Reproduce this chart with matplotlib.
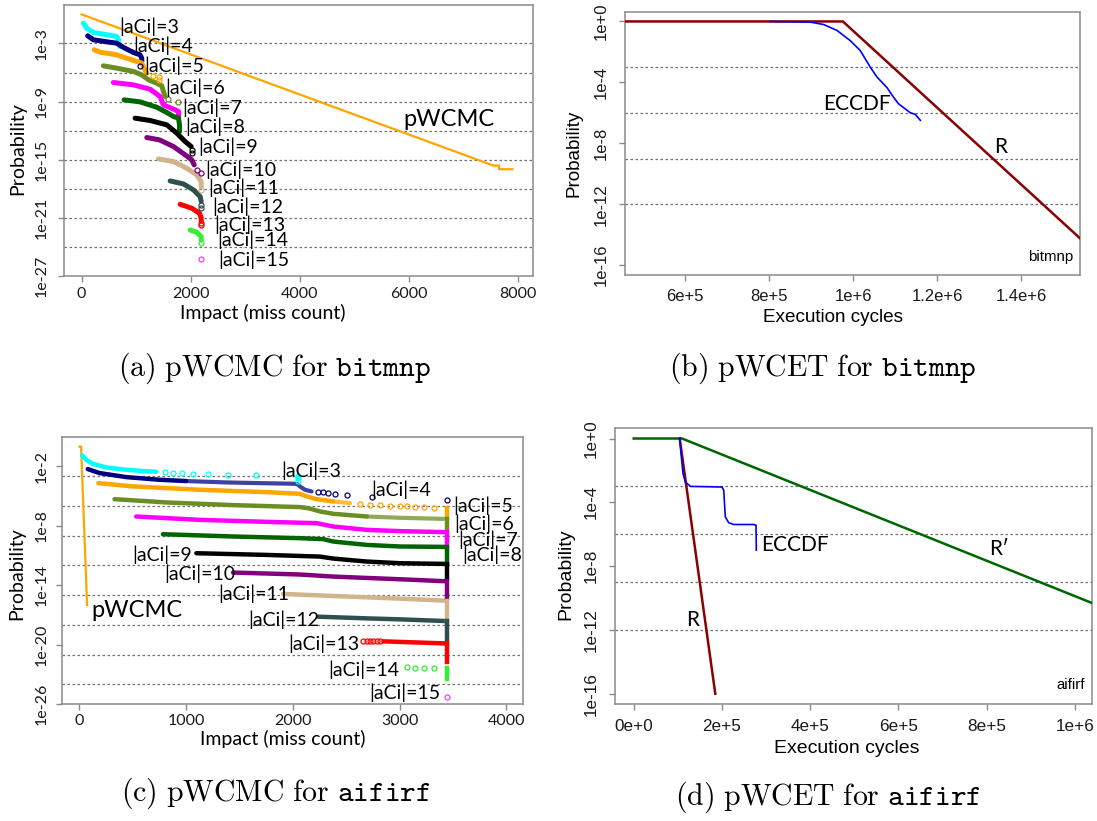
import numpy as np
import matplotlib
matplotlib.use("Agg")
import matplotlib.pyplot as plt
from matplotlib.ticker import NullLocator

plt.rcParams["mathtext.fontset"] = "cm"
plt.rcParams["font.family"] = ["Lato", "DejaVu Sans"]

CAL = ["Lato", "DejaVu Sans"]
ARI = ["Liberation Sans", "DejaVu Sans"]
FIG_W, FIG_H = 1097, 821

# ---------------- (a) pWCMC for bitmnp ----------------
a_sizes = [3, 4, 5, 6, 7, 8, 9, 10, 11, 12, 13, 14, 15]
a_line_x = [
    [31, 92, 214, 459, 642, 673, 673, 703],
    [110, 214, 459, 642, 765, 948, 1070, 1101, 1101],
    [232, 336, 642, 826, 1009, 1101, 1144, 1193],
    [398, 642, 948, 1101, 1223, 1376, 1468, 1498, 1529],
    [581, 948, 1254, 1437, 1498, 1682, 1774, 1774],
    [777, 1070, 1376, 1560, 1682, 1774, 1792, 1792],
    [979, 1254, 1560, 1743, 1896, 2006],
    [1193, 1425, 1682, 1896, 2018, 2061],
    [1407, 1682, 1927, 2110, 2190, 2190],
    [1621, 1865, 2049, 2171, 2190],
    [1804, 2018, 2159, 2190, 2190],
    [1988, 2110, 2190, 2190],
    [],
]
a_line_exp = [
    [-0.90, -1.42, -1.86, -2.10, -2.28, -2.55, -2.97, -3.31],
    [-2.21, -2.62, -2.83, -2.97, -3.41, -3.93, -4.17, -4.52, -4.86],
    [-3.65, -3.90, -4.17, -4.52, -4.86, -5.03, -5.55, -6.06],
    [-5.31, -5.55, -5.89, -6.24, -6.75, -7.10, -7.37, -7.96, -8.48],
    [-7.03, -7.27, -7.72, -8.48, -9.34, -9.78, -10.02, -10.71],
    [-8.82, -9.03, -9.58, -10.13, -10.54, -10.71, -11.40, -12.09],
    [-10.71, -10.95, -11.40, -12.26, -13.12, -13.64],
    [-12.71, -12.95, -13.64, -14.50, -15.02, -15.53],
    [-14.91, -15.19, -15.88, -16.57, -17.26, -17.80],
    [-17.19, -17.50, -18.12, -18.81, -19.30],
    [-19.60, -20.01, -20.53, -21.00, -21.30],
    [-22.25, -22.49, -22.94, -23.30],
    [],
]
a_dot_x = [[], [1070], [1315, 1425, 1425], [1590, 1761], [], [], [2018, 2018],
           [2110, 2190], [2190], [2190, 2190], [2190, 2190], [2190], [2190]]
a_dot_exp = [[], [-5.30], [-6.34, -6.48, -6.75], [-8.75, -9.06], [], [], [-13.95, -14.33],
             [-16.05, -16.33], [-18.12], [-19.67, -20.01], [-21.55, -21.73], [-23.63], [-25.28]]
a_label_x = [691, 948, 1150, 1529, 1835, 1896, 2141, 2263, 2324, 2398, 2422, 2477, 2495]
a_label_exp = [-1.24, -3.24, -5.31, -7.61, -9.61, -11.64, -13.64, -16.05, -17.94, -19.84,
               -21.73, -23.28, -25.28]
a_pwcmc_x = [0, 7541, 7645, 7645, 7890]
a_pwcmc_exp = [0, -15.60, -15.60, -15.98, -15.98]
a_xticks = [0, 2000, 4000, 6000, 8000]
a_yticks_exp = [-3, -9, -15, -21, -27]
a_grid_exp = [-3, -6, -9, -12, -15, -18, -21, -24]

# ---------------- (b) pWCET for bitmnp ----------------
b_r_x = [4.59e5, 9.76e5, 1.540e6]
b_r_exp = [0, 0, -14.25]
b_eccdf_x = [8.03e5, 8.98e5, 9.30e5, 9.62e5, 9.93e5, 1.017e6, 1.041e6, 1.057e6,
             1.081e6, 1.096e6, 1.108e6, 1.136e6, 1.148e6, 1.160e6]
b_eccdf_exp = [0, -0.04, -0.20, -0.59, -1.25, -1.90, -3.00, -3.65,
               -4.35, -4.96, -5.40, -5.99, -6.10, -6.49]
b_xticks = [6e5, 8e5, 1e6, 1.2e6, 1.4e6]
b_xticklabels = ["6e+5", "8e+5", "1e+6", "1.2e+6", "1.4e+6"]

# ---------------- (c) pWCMC for aifirf ----------------
c_line_x = [
    [25, 63, 125, 250, 438, 563, 720],
    [78, 188, 438, 751, 1000],
    [178, 501, 1127, 1753, 2066, 2113, 2222, 2379],
    [329, 814, 1440, 2066, 2144, 2254, 2379, 2692],
    [532, 1127, 1753, 2222, 2379, 2692, 3005, 3428],
    [783, 1440, 2066, 2285, 2379, 2692, 3005, 3428],
    [1096, 1753, 2254, 2379, 2692, 3005, 3428],
    [1440, 2066, 2379, 3005, 3428],
    [1909, 2379, 3005, 3428],
    [2238, 2692, 3005, 3428],
    [2848, 3428],
    [],
    [],
]
c_line_exp = [
    [-0.89, -1.33, -1.73, -2.10, -2.34, -2.44, -2.54],
    [-2.27, -2.67, -3.08, -3.35, -3.48],
    [-3.69, -4.02, -4.36, -4.60, -4.77, -4.97, -5.31, -5.54],
    [-5.31, -5.64, -5.91, -6.11, -6.22, -6.55, -6.79, -7.06],
    [-7.06, -7.40, -7.60, -7.73, -8.07, -8.41, -8.54, -8.64],
    [-8.85, -9.08, -9.25, -9.35, -9.59, -9.93, -10.09, -10.13],
    [-10.77, -10.94, -11.11, -11.31, -11.61, -11.78, -11.85],
    [-12.72, -12.92, -13.13, -13.40, -13.60],
    [-14.88, -15.09, -15.36, -15.56],
    [-17.18, -17.35, -17.45, -17.62],
    [-19.67, -19.88],
    [],
    [],
]
# dense runs of open circles (drawn as a lighter band)
c_chain_x = [[], [1000, 1377, 1690, 2003, 2040, 2066, 2113, 2176], [2379, 2535],
             [2692, 3005, 3412], [], [], [], [], [], [], [], [], []]
c_chain_exp = [[], [-3.48, -3.62, -3.69, -3.75, -3.78, -4.02, -4.36, -4.53], [-5.54, -5.71],
               [-7.06, -7.19, -7.30], [], [], [], [], [], [], [], [], []]
c_dot_x = [
    [801, 876, 961, 1064, 1205, 1393, 1653, 2044, 2044, 2044],
    [2238, 2285, 2332, 2395, 2510, 2745, 3443],
    [2629, 2723, 2817, 2911, 3005, 3067, 3146, 3230, 3327],
    [], [], [], [], [], [], [],
    [2661, 2692, 2723, 2755, 2786, 2817],
    [3067, 3146, 3230, 3327],
    [3443],
]
c_dot_exp = [
    [-2.57, -2.67, -2.67, -2.74, -2.77, -2.84, -2.91, -3.01, -3.20, -3.45],
    [-4.60, -4.63, -4.70, -4.77, -4.93, -5.14, -5.40],
    [-5.81, -5.88, -5.91, -5.98, -6.01, -6.05, -6.11, -6.15, -6.18],
    [], [], [], [], [], [], [],
    [-19.64, -19.64, -19.65, -19.65, -19.66, -19.67],
    [-22.30, -22.33, -22.33, -22.40],
    [-25.27],
]
# final vertical runs at the largest impact value
c_drop_x = 3443
c_drop_top = [None, None, -6.20, -7.30, -8.64, -10.13, -11.85, -13.60, -15.56, -17.62,
              -19.88, -22.40, None]
c_drop_bot = [None, None, -7.20, -8.40, -10.00, -11.78, -13.30, -15.30, -17.51, -19.71,
              -21.73, -23.52, None]
c_label_x = [1894, 2730, 3506, 3512, 3553, 3584, 492, 798, 1305, 1581, 1956, 2332, 2717]
c_label_exp = [-2.40, -4.36, -5.98, -7.83, -9.42, -10.94, -10.94, -12.86, -14.82, -17.45,
               -19.88, -22.57, -24.87]
c_pwcmc_x = [0, 16, 72]
c_pwcmc_exp = [0, 0, -16.0]
c_xticks = [0, 1000, 2000, 3000, 4000]
c_yticks_exp = [-2, -8, -14, -20, -26]

# ---------------- (d) pWCET for aifirf ----------------
d_r2_x = [0, 1.095e5, 1.039e6]
d_r2_exp = [0, 0, -10.31]
d_r_x = [1.043e5, 1.85e5]
d_r_exp = [0, -16.0]
d_eccdf_x = [1.043e5, 1.073e5, 1.118e5, 1.170e5, 1.284e5, 2.002e5, 2.041e5, 2.077e5,
             2.154e5, 2.268e5, 2.721e5, 2.773e5, 2.780e5]
d_eccdf_exp = [0, -0.94, -2.20, -2.72, -3.00, -3.04, -3.24, -4.91, -5.28, -5.39, -5.39,
               -5.43, -7.00]
d_xticks = [0, 2e5, 4e5, 6e5, 8e5, 1e6]
d_xticklabels = ["0e+0", "2e+5", "4e+5", "6e+5", "8e+5", "1e+6"]

bd_yticks_exp = [0, -4, -8, -12, -16]
bd_yticklabels = ["1e+0", "1e-4", "1e-8", "1e-12", "1e-16"]
bd_grid_exp = [-3, -6, -9, -12]

aci_colors = ["#00ffff", "#000080", "#ffa500", "#6b8e23", "#ff00ff", "#006400", "#000000",
              "#800080", "#d2b48c", "#2f4f4f", "#ff0000", "#33ee33", "#ee44ee"]


def p(e):
    return 10.0 ** np.asarray(e, dtype=float)


fig = plt.figure(figsize=(FIG_W / 100, FIG_H / 100), dpi=100)


def px_axes(left, top, right, bottom):
    return fig.add_axes([left / FIG_W, 1 - bottom / FIG_H,
                         (right - left) / FIG_W, (bottom - top) / FIG_H])


def ftext(x, y, s, **kw):
    fig.text(x / FIG_W, 1 - y / FIG_H, s, ha="center", va="center", **kw)


def style(ax, xlim, ylim_exp, xticks, xlabels, yticks_exp, ylabels, grid_exp,
          font, size, xpad, ypad):
    ax.set_yscale("log")
    ax.set_xlim(*xlim)
    ax.set_ylim(10.0 ** ylim_exp[0], 10.0 ** ylim_exp[1])
    ax.set_xticks(xticks, xlabels)
    ax.set_yticks(p(yticks_exp), ylabels)
    ax.yaxis.set_minor_locator(NullLocator())
    for s in ax.spines.values():
        s.set_color("#8a8a8a")
        s.set_linewidth(1.1)
    ax.tick_params(length=4, width=1, color="#8a8a8a", labelsize=size, labelcolor="#1a1a1a")
    ax.tick_params(axis="x", pad=xpad)
    ax.tick_params(axis="y", pad=ypad, labelrotation=90)
    for lab in ax.get_yticklabels():
        lab.set_va("center")
        lab.set_family(font)
    for lab in ax.get_xticklabels():
        lab.set_family(font)
    for e in grid_exp:
        ax.axhline(10.0 ** e, color="#707070", lw=0.9, ls=(0, (2, 2)), zorder=1)


def aci_label(k):
    return "|aCi|=%d" % k


# ---- panel (a) ----
ax = px_axes(64.3, 4.7, 533, 276)
style(ax, (-318, 8268), (-27, 1), a_xticks, [str(v) for v in a_xticks], a_yticks_exp,
      ["1e%d" % e for e in a_yticks_exp], a_grid_exp, CAL, 11.5, 4, 7)
ax.plot(a_pwcmc_x, p(a_pwcmc_exp), color="#ffa500", lw=1.6, zorder=2)
for xs, es, c in zip(a_line_x, a_line_exp, aci_colors):
    if xs:
        ax.plot(xs, p(es), color=c, lw=3.6, solid_capstyle="round", zorder=3)
for xs, es, c in zip(a_dot_x, a_dot_exp, aci_colors):
    if xs:
        ax.plot(xs, p(es), "o", mfc="none", mec=c, ms=3.6, mew=0.9, zorder=3)
for k, x, e in zip(a_sizes, a_label_x, a_label_exp):
    ax.text(x, 10.0 ** e, aci_label(k), fontsize=14, family=CAL, va="center", ha="left", zorder=5)
ax.text(5902, 10.0 ** -10.89, "pWCMC", fontsize=17, family=CAL, va="center", ha="left")
ftext(17.5, 149, "Probability", rotation=90, fontsize=14, family=CAL)
ftext(263, 313, "Impact (miss count)", fontsize=14, family=CAL)

# ---- panel (b) ----
ax = px_axes(625.3, 11.7, 1080.3, 275)
style(ax, (4.59e5, 1.540e6), (-16.64, 0.64), b_xticks, b_xticklabels, bd_yticks_exp,
      bd_yticklabels, bd_grid_exp, ARI, 12, 6, 8)
ax.plot(b_r_x, p(b_r_exp), color="#8b0000", lw=1.8, zorder=3)
ax.plot(b_eccdf_x, p(b_eccdf_exp), color="#0000ff", lw=1.2, zorder=4)
ax.text(9.30e5, 10.0 ** -5.4, "ECCDF", fontsize=15, family=CAL, va="center", ha="left")
ax.text(1.3497e6, 10.0 ** -8.24, "R", fontsize=15, family=CAL, va="center", ha="center")
ax.text(1.524e6, 10.0 ** -15.45, "bitmnp", fontsize=10.8, family=ARI, va="center", ha="right")
ftext(574, 153, "Probability", rotation=90, fontsize=13.6, family=ARI)
ftext(833, 318, "Execution cycles", fontsize=13.6, family=ARI)

# ---- panel (c) ----
ax = px_axes(62.3, 436.7, 523.4, 704)
style(ax, (-160, 4160), (-26, 1), c_xticks, [str(v) for v in c_xticks], c_yticks_exp,
      ["1e%d" % e for e in c_yticks_exp], a_grid_exp, CAL, 11.5, 3, 6)
ax.plot(c_pwcmc_x, p(c_pwcmc_exp), color="#ffa500", lw=1.6, zorder=2)
for xs, es, c in zip(c_chain_x, c_chain_exp, aci_colors):
    if xs:
        ax.plot(xs, p(es), color=c, lw=3.0, alpha=0.75, solid_capstyle="round", zorder=3)
for xs, es, c in zip(c_line_x, c_line_exp, aci_colors):
    if xs:
        ax.plot(xs, p(es), color=c, lw=3.2, solid_capstyle="round", zorder=3)
for top, bot, c in zip(c_drop_top, c_drop_bot, aci_colors):
    if top is not None:
        ax.plot([c_drop_x, c_drop_x], p([top, bot]), color=c, lw=3.2, zorder=3)
for xs, es, c in zip(c_dot_x, c_dot_exp, aci_colors):
    if xs:
        ax.plot(xs, p(es), "o", mfc="none", mec=c, ms=3.6, mew=0.9, zorder=3)
for k, x, e in zip(a_sizes, c_label_x, c_label_exp):
    ax.text(x, 10.0 ** e, aci_label(k), fontsize=14, family=CAL, va="center", ha="left", zorder=5)
ax.text(110, 10.0 ** -16.57, "pWCMC", fontsize=17, family=CAL, va="center", ha="left")
ftext(16.7, 574, "Probability", rotation=90, fontsize=14, family=CAL)
ftext(282.5, 739, "Impact (miss count)", fontsize=14, family=CAL)

# ---- panel (d) ----
ax = px_axes(615.3, 428.3, 1092, 704)
style(ax, (-4.17e4, 1.039e6), (-16.64, 0.64), d_xticks, d_xticklabels, bd_yticks_exp,
      bd_yticklabels, bd_grid_exp, ARI, 12.3, 6.5, 8)
ax.plot(d_r2_x, p(d_r2_exp), color="#006400", lw=1.8, zorder=3)
ax.plot(d_r_x, p(d_r_exp), color="#8b0000", lw=1.8, zorder=3)
ax.plot(d_eccdf_x, p(d_eccdf_exp), color="#0000ff", lw=1.2, zorder=4)
ax.text(2.894e5, 10.0 ** -6.69, "ECCDF", fontsize=15, family=CAL, va="center", ha="left")
ax.text(1.34e5, 10.0 ** -11.36, "R", fontsize=15, family=CAL, va="center", ha="center")
ax.text(8.05e5, 10.0 ** -6.9, "R\u2032", fontsize=15, family=CAL, va="center", ha="left")
ax.text(1.0218e6, 10.0 ** -15.48, "aifirf", fontsize=10.8, family=ARI, va="center", ha="right")
ftext(565.7, 574, "Probability", rotation=90, fontsize=14, family=ARI)
ftext(847, 748.5, "Execution cycles", fontsize=14, family=ARI)

# ---- sub-captions ----
ftext(274, 368, r"$\mathrm{(a)\ pWCMC\ for\ }\mathtt{bitmnp}$", fontsize=21.5)
ftext(823, 368, r"$\mathrm{(b)\ pWCET\ for\ }\mathtt{bitmnp}$", fontsize=21.5)
ftext(276, 793, r"$\mathrm{(c)\ pWCMC\ for\ }\mathtt{aifirf}$", fontsize=21.5)
ftext(828, 797, r"$\mathrm{(d)\ pWCET\ for\ }\mathtt{aifirf}$", fontsize=21.5)

fig.savefig("out.png", dpi=100)
